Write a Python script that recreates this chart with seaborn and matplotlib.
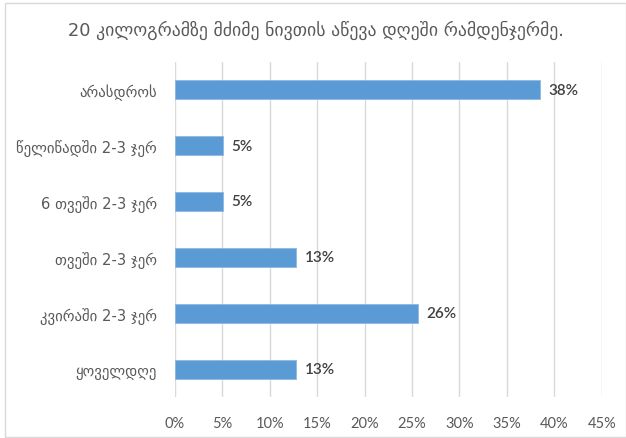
import matplotlib
matplotlib.use("Agg")
import matplotlib.pyplot as plt
import seaborn as sns
import pandas as pd
from matplotlib.patches import Rectangle
from matplotlib.ticker import PercentFormatter, MultipleLocator

title = "20 კილოგრამზე მძიმე ნივთის აწევა დღეში რამდენჯერმე."
categories = [
    "არასდროს",
    "წელიწადში 2-3 ჯერ",
    "6 თვეში 2-3 ჯერ",
    "თვეში 2-3 ჯერ",
    "კვირაში 2-3 ჯერ",
    "ყოველდღე",
]
shares = [0.385, 0.051, 0.051, 0.128, 0.256, 0.128]

df = pd.DataFrame({"category": categories, "share": shares})

sns.set_theme(style="white")
plt.rcParams["font.family"] = ["DejaVu Sans"]

BLUE = "#5B9BD5"
GRID = "#D9D9D9"
TXT = "#595959"
LBL = "#404040"

fig = plt.figure(figsize=(6.26, 4.39), dpi=100)
ax = fig.add_axes([0.2796, 0.0934, 0.6816, 0.7638])

sns.barplot(data=df, x="share", y="category", order=categories,
            color=BLUE, width=0.34, saturation=1, ax=ax, zorder=3,
            edgecolor="#8DB9E4", linewidth=0.6)

ax.set_xlim(0, 0.45)
ax.xaxis.set_major_locator(MultipleLocator(0.05))
ax.xaxis.set_major_formatter(PercentFormatter(1.0, decimals=0))
ax.grid(axis="x", color=GRID, linewidth=1.0, zorder=0)
ax.grid(axis="y", visible=False)
for s in ax.spines.values():
    s.set_visible(False)
ax.set_xlabel("")
ax.set_ylabel("")
ax.tick_params(axis="x", length=0, pad=14, labelsize=10, colors=TXT)
ax.tick_params(axis="y", length=0, pad=13, labelsize=10.6, colors=TXT)
for t in ax.get_xticklabels():
    t.set_fontfamily(["Lato", "DejaVu Sans"])
    t.set_fontsize(10.5)

for i, v in enumerate(shares):
    ax.text(v + 0.0085, i, f"{v:.0%}", va="center", ha="left",
            fontsize=11, color=LBL, fontweight="semibold",
            family=["Lato", "DejaVu Sans"])

fig.text(0.505, 0.93, title, ha="center", va="center", fontsize=12.8, color=TXT)

fig.patches.append(Rectangle((5 / 626, 1 / 439), 1 - 5 / 626, 1 - 5 / 439,
                             transform=fig.transFigure, fill=False,
                             edgecolor="#D9D9D9", linewidth=1.0))

fig.savefig("out.png", dpi=100)
